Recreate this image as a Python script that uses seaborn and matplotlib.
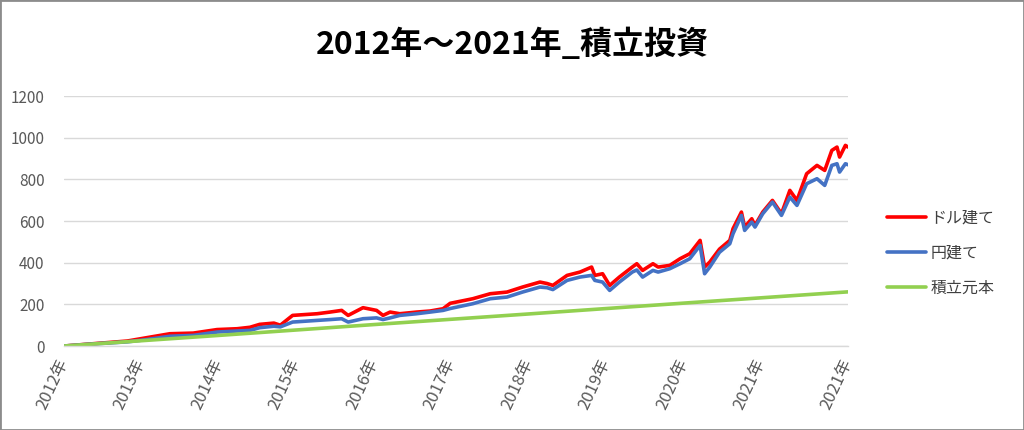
import matplotlib
matplotlib.use("Agg")
import matplotlib.pyplot as plt
import seaborn as sns
import pandas as pd
from matplotlib.patches import Rectangle

# ---- data (x = months since Jan 2012) ----
title = "2012年～2021年_積立投資"
year_labels = ["2012年", "2013年", "2014年", "2015年", "2016年", "2017年",
               "2018年", "2019年", "2020年", "2021年", "2021年"]
tick_months = [0, 12, 24, 36, 48, 60, 72, 84, 96, 108, 121.4]
y_ticks = [0, 200, 400, 600, 800, 1000, 1200]

usd_months = [0, 4.5, 9.8, 12.8, 16.4, 20, 23.7, 26.8, 28.8, 30.3, 32.5, 33.5,
              35.4, 39.2, 41.2, 43, 44, 46.3, 48.4, 49.4, 50.5, 52, 54.6, 56.7,
              58.7, 59.8, 63.3, 66, 68.6, 71, 73.7, 74.8, 75.7, 77.9, 79.9,
              81.7, 82.2, 83.4, 84.5, 86, 88, 88.7, 89.6, 91.2, 92, 93.8, 95.4,
              96.9, 98.5, 99.2, 100, 101.5, 103.1, 103.6, 104.9, 105.4, 106.5,
              107, 108.2, 109.7, 111.1, 112.4, 113.5, 115, 116.6, 117.8, 118.9,
              119.7, 120.1, 121, 121.4]
usd_values = [0, 11, 24, 40, 59, 62, 79, 83, 90, 104, 110, 100,
              147, 155, 163, 171, 147, 184, 171, 147, 163, 155, 163, 168,
              179, 205, 227, 251, 259, 283, 307, 300, 291, 339, 355,
              379, 339, 347, 291, 331, 379, 395, 363, 395, 379, 387, 419,
              443, 507, 379, 403, 465, 507, 563, 643, 571, 611,
              579, 643, 699, 635, 747, 699, 827, 867, 843, 939,
              955, 907, 963, 955]

jpy_months = usd_months
jpy_values = [0, 10, 20, 31, 47, 51, 67, 72, 75, 88, 95, 92,
              115, 123, 127, 131, 115, 131, 135, 127, 135, 147, 155, 163,
              171, 180, 203, 227, 235, 259, 283, 280, 271, 315, 331,
              339, 315, 307, 267, 307, 355, 365, 331, 363, 355, 371, 395,
              419, 483, 347, 379, 450, 491, 539, 627, 555, 595,
              571, 635, 691, 627, 715, 675, 779, 803, 771, 867,
              875, 835, 875, 870]

principal_months = [0, 24, 48, 72, 96, 121.4]
principal_values = [0, 51, 103, 154, 206, 260]

series_names = ["ドル建て", "円建て", "積立元本"]
colors = ["#FF0000", "#4472C4", "#92D050"]

# ---- style ----
sns.set_theme(style="white")
plt.rcParams["font.family"] = ["Noto Sans CJK JP", "DejaVu Sans"]

fig = plt.figure(figsize=(10.24, 4.30), dpi=100)
ax = fig.add_axes([0.0625, 0.1953, 0.7656, 0.5814])

df = pd.concat([
    pd.DataFrame({"month": usd_months, "value": usd_values, "series": series_names[0]}),
    pd.DataFrame({"month": jpy_months, "value": jpy_values, "series": series_names[1]}),
    pd.DataFrame({"month": principal_months, "value": principal_values, "series": series_names[2]}),
], ignore_index=True)

sns.lineplot(data=df, x="month", y="value", hue="series", hue_order=series_names,
             palette=colors, linewidth=2.6, ax=ax, sort=False, estimator=None)

ax.set_xlim(0, 121.4)
ax.set_ylim(0, 1200)
ax.set_yticks(y_ticks)
ax.set_yticklabels([str(v) for v in y_ticks], color="#595959", fontsize=11)
ax.set_xticks(tick_months)
ax.set_xticklabels(year_labels, rotation=65, ha="right", va="center",
                   rotation_mode="anchor", color="#595959", fontsize=12)
ax.tick_params(axis="x", length=0, pad=10)
ax.tick_params(axis="y", length=0, pad=14)
ax.set_xlabel("")
ax.set_ylabel("")
ax.grid(axis="y", color="#D9D9D9", linewidth=1)
ax.grid(axis="x", visible=False)
for s in ["left", "right", "top"]:
    ax.spines[s].set_visible(False)
ax.spines["bottom"].set_color("#D9D9D9")
ax.spines["bottom"].set_linewidth(1)

leg = ax.legend(loc="center left", bbox_to_anchor=(1.032, 0.372), frameon=False,
                fontsize=11.5, handlelength=2.4, handletextpad=0.3, labelspacing=1.15)
for t in leg.get_texts():
    t.set_color("#404040")
for h in leg.get_lines():
    h.set_linewidth(2.6)

fig.text(0.5, 0.895, title, ha="center", va="center", fontsize=23,
         fontweight="bold", color="#000000")

fig.patches.append(Rectangle((0, 0), 1, 1, transform=fig.transFigure,
                             fill=False, edgecolor="#8C8C8C", linewidth=2))

fig.savefig("out.png", dpi=100)
